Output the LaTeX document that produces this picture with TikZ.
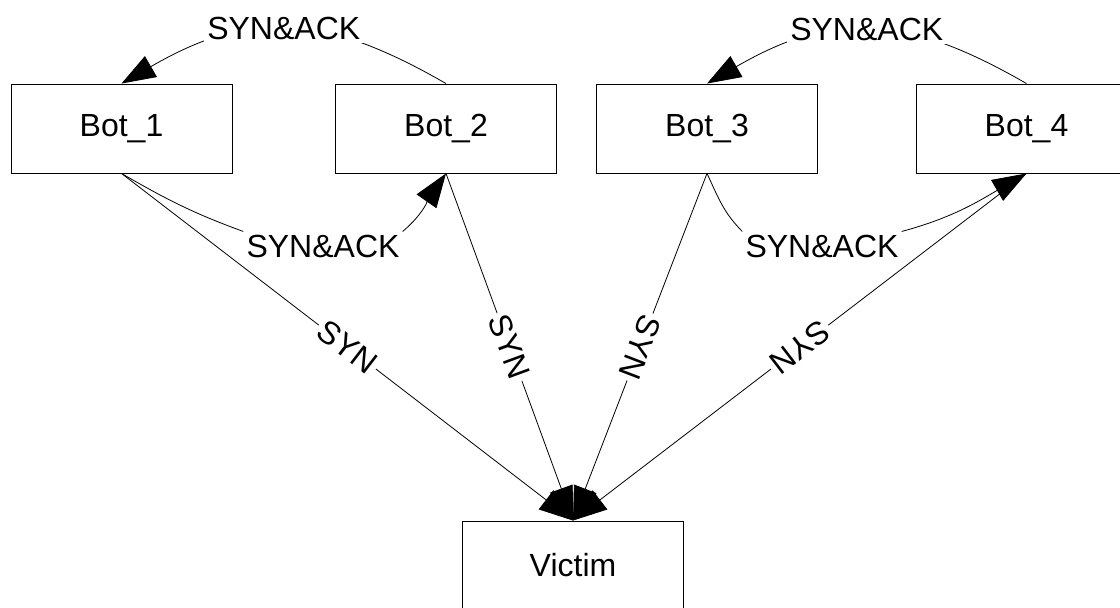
\documentclass[tikz,border=0pt]{standalone}
\usepackage{fontspec}
\setmainfont{Liberation Sans}
\usetikzlibrary{arrows.meta}
\begin{document}
\begin{tikzpicture}[x=1pt,y=1pt,
  box/.style={draw=black, line width=0.9pt, minimum width=221pt, minimum height=89pt, inner sep=0pt, font=\fontsize{32}{38}\selectfont},
  lbl/.style={fill=white, inner sep=3pt, font=\fontsize{32}{38}\selectfont},
  conn/.style={draw=black, line width=0.8pt},
  tip/.style={-{Triangle[length=34pt,width=24pt]}}
]
\useasboundingbox (0,0) rectangle (1120,608);
\clip (0,0) rectangle (1120,608);
\node[box] (b1) at (121.5,479.5) {Bot\_1};
\node[box] (b2) at (446,479.5) {Bot\_2};
\node[box] (b3) at (707,479.5) {Bot\_3};
\node[box] (b4) at (1026.5,479.5) {Bot\_4};
\node[box] (v) at (573,42.5) {Victim};
% SYN lines
\draw[conn,tip] (b1.south) -- node[lbl,sloped,allow upside down,midway]{SYN} (v.north);
\draw[conn,tip] (b2.south) -- node[lbl,sloped,allow upside down,midway]{SYN} (v.north);
\draw[conn,tip] (b3.south) -- node[lbl,sloped,allow upside down,midway]{SYN} (v.north);
\draw[conn,tip] (b4.south) -- node[lbl,sloped,allow upside down,midway]{SYN} (v.north);
% top SYN&ACK curves
\draw[conn,tip] (b2.north) to[out=150,in=30,looseness=1.15] node[lbl,midway]{SYN\&ACK} (b1.north);
\draw[conn,tip] (b4.north) to[out=150,in=30,looseness=1.15] node[lbl,midway]{SYN\&ACK} (b3.north);
% middle SYN&ACK
\node[lbl] (a12) at (323,362) {SYN\&ACK};
\node[lbl] (a34) at (822,362) {SYN\&ACK};
\draw[conn] (b1.south) to[out=-30,in=160] (a12.north west);
\draw[conn,tip] (a12.north east) to[out=40,in=235] (b2.south);
\draw[conn] (b3.south) to[out=-65,in=135] (a34.north west);
\draw[conn,tip] (a34.north east) to[out=15,in=210] (b4.south);
\end{tikzpicture}
\end{document}
